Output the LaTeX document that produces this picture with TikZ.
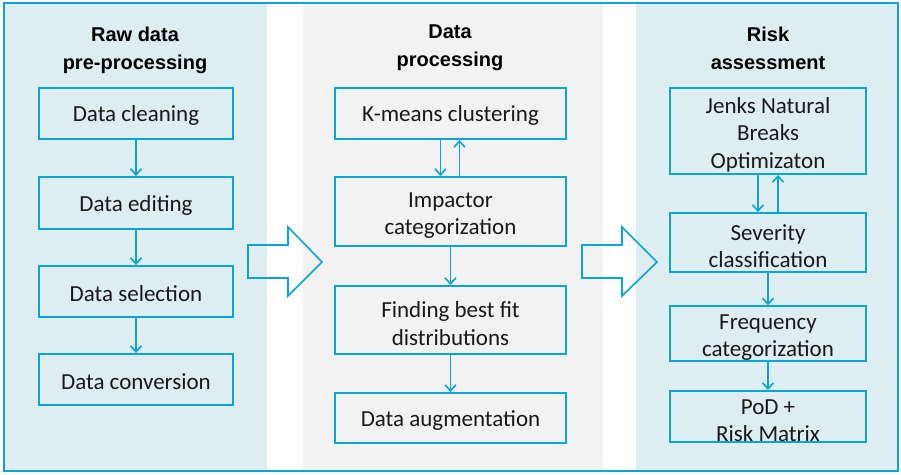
\documentclass[tikz,border=0pt]{standalone}
\usepackage{fontspec}
\setmainfont{Carlito}
\newfontfamily\headfont{Liberation Sans}
\usetikzlibrary{arrows.meta}
\definecolor{flowblue}{RGB}{8,166,214}
\definecolor{panelblue}{RGB}{221,237,242}
\definecolor{panelgray}{RGB}{242,242,242}
% invisible struts that lower the first text line a little
\newcommand\tallstrut{\rule{0pt}{23pt}}
\newcommand\shortstrut{\rule{0pt}{20pt}}
\tikzset{
  stepbox/.style={draw=flowblue, line width=2pt, fill=none, inner sep=0pt,
    align=center, font=\fontsize{23}{27.5}\selectfont, text=black!90},
  head/.style={align=center, font=\headfont\bfseries\fontsize{20}{28}\selectfont},
  conn/.style={draw=flowblue, line width=1.6pt,
    -{Straight Barb[length=6pt,width=11pt,line width=1.6pt]}},
  bigarrow/.style={draw=flowblue, line width=1.6pt, line join=miter},
}
\begin{document}
\begin{tikzpicture}[x=1pt,y=-1pt]
\useasboundingbox (0,0) rectangle (901,474);
% column backgrounds
\fill[panelblue] (4,3) rectangle (267,471);
\fill[panelgray] (303,3) rectangle (603,471);
\fill[panelblue] (636,3) rectangle (898,471);
\draw[flowblue, line width=2pt] (4,3) rectangle (898,471);

% column headings
\node[head] (h1) at (135,50) {Raw data\\pre-processing};
\node[head] (h2) at (450,48) {Data\\processing};
\node[head] (h3) at (768,48) {Risk\\assessment};

% raw data pre-processing
\node[stepbox, minimum width=194pt, minimum height=51pt] (clean) at (136,113.5) {\shortstrut Data cleaning};
\node[stepbox, minimum width=194pt, minimum height=52pt] (edit) at (136,203) {\shortstrut Data editing};
\node[stepbox, minimum width=194pt, minimum height=51pt] (select) at (136,291.5) {\shortstrut Data selection};
\node[stepbox, minimum width=194pt, minimum height=51pt] (convert) at (136,379.5) {\shortstrut Data conversion};

% data processing
\node[stepbox, minimum width=231pt, minimum height=51pt] (kmeans) at (450.5,113.5) {\shortstrut K-means clustering};
\node[stepbox, minimum width=231pt, minimum height=69pt] (impact) at (450.5,211.5) {\tallstrut Impactor\\categorization};
\node[stepbox, minimum width=231pt, minimum height=68pt] (bestfit) at (450.5,320) {\tallstrut Finding best fit\\distributions};
\node[stepbox, minimum width=231pt, minimum height=50pt] (augment) at (450.5,418) {\shortstrut Data augmentation};

% risk assessment
\node[stepbox, minimum width=196pt, minimum height=86pt] (jenks) at (768,131) {\tallstrut Jenks Natural\\Breaks\\Optimizaton};
\node[stepbox, minimum width=196pt, minimum height=59pt] (severity) at (768,242.5) {\tallstrut Severity\\classification};
\node[stepbox, minimum width=196pt, minimum height=51pt] (freq) at (768,333.5) {\tallstrut Frequency\\categorization};
\node[stepbox, minimum width=196pt, minimum height=51pt] (pod) at (768,416.5) {\tallstrut PoD +\\Risk Matrix};

% connectors
\draw[conn] (clean) -- (edit);
\draw[conn] (edit) -- (select);
\draw[conn] (select) -- (convert);
\draw[conn] ([xshift=-10pt]kmeans.south) -- ([xshift=-10pt]impact.north);
\draw[conn] ([xshift=9pt]impact.north) -- ([xshift=9pt]kmeans.south);
\draw[conn] (impact) -- (bestfit);
\draw[conn] (bestfit) -- (augment);
\draw[conn] ([xshift=-10pt]jenks.south) -- ([xshift=-10pt]severity.north);
\draw[conn] ([xshift=10pt]severity.north) -- ([xshift=10pt]jenks.south);
\draw[conn] (severity) -- (freq);
\draw[conn] (freq) -- (pod);

% block arrows between the columns
\draw[bigarrow] (248,245) -- (288,245) -- (288,227) -- (322,262) -- (288,296) -- (288,278) -- (248,278) -- cycle;
\draw[bigarrow] (582,245) -- (622,245) -- (622,227) -- (657,262) -- (622,296) -- (622,278) -- (582,278) -- cycle;
\end{tikzpicture}
\end{document}
